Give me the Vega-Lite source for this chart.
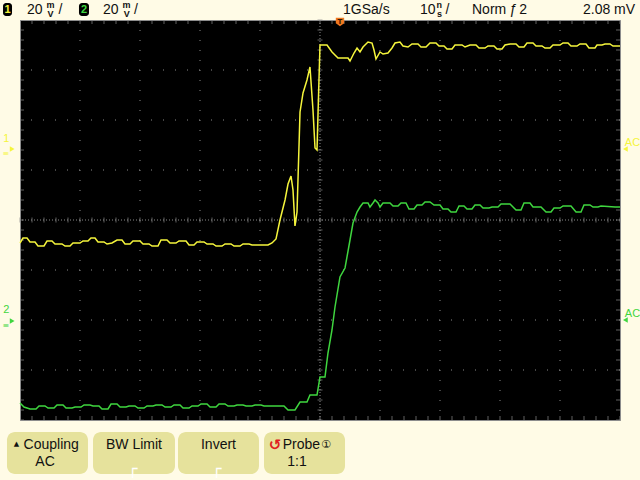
{
"$schema": "https://vega.github.io/schema/vega-lite/v6.json",
"width": 600, "height": 400,
"autosize": {"type": "none"},
"padding": {"left": 20, "top": 20, "right": 20, "bottom": 60},
"background": "#fffbe6",
"config": {"axis": {"disable": true}, "view": {"fill": "#000000", "stroke": "#8c8c8c", "strokeWidth": 1}},
"datasets": {
"ch1": [{"t":-50,"v":-0.46},{"t":-49.5,"v":-0.36},{"t":-48.83,"v":-0.36},{"t":-48.33,"v":-0.44},{"t":-47.5,"v":-0.44},{"t":-47,"v":-0.52},{"t":-46,"v":-0.52},{"t":-45.5,"v":-0.42},{"t":-44.67,"v":-0.42},{"t":-44.17,"v":-0.48},{"t":-43,"v":-0.48},{"t":-42.5,"v":-0.52},{"t":-41.67,"v":-0.52},{"t":-41.17,"v":-0.46},{"t":-40,"v":-0.46},{"t":-39.5,"v":-0.42},{"t":-38.67,"v":-0.42},{"t":-38.17,"v":-0.36},{"t":-37.5,"v":-0.36},{"t":-37,"v":-0.44},{"t":-36,"v":-0.44},{"t":-35.5,"v":-0.48},{"t":-34.67,"v":-0.46},{"t":-33.83,"v":-0.4},{"t":-33,"v":-0.4},{"t":-32.5,"v":-0.48},{"t":-31.67,"v":-0.48},{"t":-31.17,"v":-0.42},{"t":-30,"v":-0.42},{"t":-29.5,"v":-0.48},{"t":-28.5,"v":-0.48},{"t":-28,"v":-0.52},{"t":-27,"v":-0.52},{"t":-26.5,"v":-0.4},{"t":-25.5,"v":-0.4},{"t":-25,"v":-0.46},{"t":-24,"v":-0.46},{"t":-23.5,"v":-0.42},{"t":-22.33,"v":-0.42},{"t":-21.83,"v":-0.5},{"t":-21,"v":-0.5},{"t":-20.5,"v":-0.44},{"t":-19.33,"v":-0.44},{"t":-18.83,"v":-0.48},{"t":-17.83,"v":-0.48},{"t":-17.33,"v":-0.52},{"t":-16.33,"v":-0.52},{"t":-15.83,"v":-0.48},{"t":-14.83,"v":-0.48},{"t":-14.33,"v":-0.52},{"t":-13.33,"v":-0.52},{"t":-12.83,"v":-0.48},{"t":-11.83,"v":-0.48},{"t":-11.33,"v":-0.5},{"t":-9.67,"v":-0.5},{"t":-8.67,"v":-0.5},{"t":-8,"v":-0.46},{"t":-7.33,"v":-0.38},{"t":-6.67,"v":0},{"t":-5.83,"v":0.4},{"t":-5.33,"v":0.72},{"t":-4.83,"v":0.88},{"t":-4.5,"v":0.6},{"t":-4.17,"v":-0.12},{"t":-3.83,"v":0.16},{"t":-3.33,"v":2.16},{"t":-2.83,"v":2.54},{"t":-2.17,"v":2.8},{"t":-1.67,"v":3.06},{"t":-1.17,"v":2.2},{"t":-0.83,"v":1.44},{"t":-0.5,"v":1.4},{"t":-0.17,"v":2.8},{"t":0,"v":3.5},{"t":1.17,"v":3.5},{"t":2,"v":3.36},{"t":3,"v":3.24},{"t":4.67,"v":3.24},{"t":5,"v":3.18},{"t":5.67,"v":3.34},{"t":6.17,"v":3.44},{"t":6.67,"v":3.36},{"t":7.17,"v":3.46},{"t":8,"v":3.56},{"t":8.67,"v":3.54},{"t":9,"v":3.4},{"t":9.33,"v":3.22},{"t":10,"v":3.36},{"t":10.5,"v":3.32},{"t":11.33,"v":3.34},{"t":12,"v":3.44},{"t":12.5,"v":3.54},{"t":13.33,"v":3.56},{"t":13.83,"v":3.48},{"t":14.67,"v":3.46},{"t":15.33,"v":3.52},{"t":16.33,"v":3.52},{"t":16.83,"v":3.46},{"t":17.67,"v":3.46},{"t":18.33,"v":3.54},{"t":19.33,"v":3.54},{"t":19.83,"v":3.48},{"t":20.67,"v":3.48},{"t":21.17,"v":3.42},{"t":22,"v":3.42},{"t":22.5,"v":3.5},{"t":23.67,"v":3.5},{"t":24.17,"v":3.46},{"t":25,"v":3.5},{"t":26,"v":3.5},{"t":26.5,"v":3.44},{"t":27.5,"v":3.44},{"t":28,"v":3.48},{"t":29,"v":3.48},{"t":29.5,"v":3.42},{"t":30.33,"v":3.42},{"t":30.83,"v":3.5},{"t":31.67,"v":3.52},{"t":32.67,"v":3.52},{"t":33.17,"v":3.46},{"t":34,"v":3.46},{"t":34.5,"v":3.54},{"t":35.5,"v":3.54},{"t":36,"v":3.48},{"t":37,"v":3.48},{"t":37.5,"v":3.44},{"t":38.33,"v":3.44},{"t":38.83,"v":3.5},{"t":40,"v":3.5},{"t":40.5,"v":3.54},{"t":41.33,"v":3.54},{"t":41.83,"v":3.48},{"t":42.83,"v":3.48},{"t":43.33,"v":3.52},{"t":44.33,"v":3.52},{"t":44.83,"v":3.44},{"t":45.83,"v":3.44},{"t":46.17,"v":3.5},{"t":47,"v":3.5},{"t":47.5,"v":3.52},{"t":48.33,"v":3.52},{"t":48.83,"v":3.48},{"t":50,"v":3.48}],
"ch2": [{"t":-50,"v":-3.66},{"t":-49.33,"v":-3.74},{"t":-48.33,"v":-3.78},{"t":-47.33,"v":-3.78},{"t":-46.83,"v":-3.72},{"t":-45.83,"v":-3.72},{"t":-45.33,"v":-3.76},{"t":-44.33,"v":-3.76},{"t":-43.83,"v":-3.7},{"t":-42.83,"v":-3.7},{"t":-42.33,"v":-3.76},{"t":-41.33,"v":-3.76},{"t":-40.83,"v":-3.74},{"t":-39.83,"v":-3.74},{"t":-39.33,"v":-3.7},{"t":-38.33,"v":-3.7},{"t":-37.83,"v":-3.72},{"t":-36.83,"v":-3.72},{"t":-36.33,"v":-3.78},{"t":-35.33,"v":-3.78},{"t":-34.83,"v":-3.68},{"t":-33.83,"v":-3.68},{"t":-33.33,"v":-3.74},{"t":-32.33,"v":-3.74},{"t":-31.83,"v":-3.72},{"t":-30.83,"v":-3.72},{"t":-30.33,"v":-3.76},{"t":-29.33,"v":-3.76},{"t":-28.83,"v":-3.72},{"t":-27.83,"v":-3.72},{"t":-27.33,"v":-3.7},{"t":-26.33,"v":-3.7},{"t":-25.83,"v":-3.74},{"t":-24.83,"v":-3.74},{"t":-24.33,"v":-3.7},{"t":-23.33,"v":-3.7},{"t":-22.83,"v":-3.76},{"t":-21.83,"v":-3.76},{"t":-21.33,"v":-3.72},{"t":-20.33,"v":-3.72},{"t":-19.83,"v":-3.68},{"t":-18.83,"v":-3.68},{"t":-18.33,"v":-3.74},{"t":-17.33,"v":-3.74},{"t":-16.83,"v":-3.68},{"t":-15.83,"v":-3.68},{"t":-15.33,"v":-3.72},{"t":-14.33,"v":-3.72},{"t":-13.83,"v":-3.7},{"t":-12.83,"v":-3.7},{"t":-12.33,"v":-3.72},{"t":-11.33,"v":-3.72},{"t":-10.83,"v":-3.7},{"t":-9.83,"v":-3.7},{"t":-9.33,"v":-3.72},{"t":-6,"v":-3.72},{"t":-5.33,"v":-3.8},{"t":-4.17,"v":-3.8},{"t":-3.33,"v":-3.64},{"t":-2.17,"v":-3.64},{"t":-1.67,"v":-3.5},{"t":-0.5,"v":-3.5},{"t":0,"v":-3.14},{"t":0.83,"v":-3.14},{"t":1.33,"v":-2.66},{"t":2,"v":-2.2},{"t":2.5,"v":-1.74},{"t":3.33,"v":-1.14},{"t":4.17,"v":-0.96},{"t":5,"v":-0.4},{"t":5.5,"v":-0.06},{"t":6.17,"v":0.16},{"t":6.67,"v":0.26},{"t":7.17,"v":0.34},{"t":8,"v":0.34},{"t":8.33,"v":0.26},{"t":8.83,"v":0.34},{"t":9.17,"v":0.4},{"t":9.67,"v":0.34},{"t":10,"v":0.26},{"t":10.5,"v":0.34},{"t":11.67,"v":0.34},{"t":12.17,"v":0.28},{"t":13,"v":0.28},{"t":13.5,"v":0.34},{"t":14.33,"v":0.34},{"t":14.83,"v":0.22},{"t":15.67,"v":0.22},{"t":16.17,"v":0.3},{"t":17,"v":0.3},{"t":17.5,"v":0.36},{"t":18.33,"v":0.36},{"t":19,"v":0.3},{"t":20,"v":0.3},{"t":20.5,"v":0.22},{"t":21.33,"v":0.22},{"t":21.83,"v":0.16},{"t":22.67,"v":0.16},{"t":23.17,"v":0.28},{"t":24,"v":0.28},{"t":24.5,"v":0.22},{"t":25.33,"v":0.22},{"t":25.83,"v":0.3},{"t":26.67,"v":0.3},{"t":27.17,"v":0.24},{"t":28.17,"v":0.24},{"t":28.67,"v":0.26},{"t":29.67,"v":0.26},{"t":30.17,"v":0.32},{"t":31.67,"v":0.32},{"t":32.67,"v":0.2},{"t":33.5,"v":0.2},{"t":34,"v":0.34},{"t":35,"v":0.34},{"t":35.5,"v":0.26},{"t":36.83,"v":0.26},{"t":37.67,"v":0.16},{"t":38.5,"v":0.16},{"t":39,"v":0.24},{"t":40,"v":0.24},{"t":40.5,"v":0.28},{"t":41.83,"v":0.28},{"t":42.67,"v":0.16},{"t":43.5,"v":0.16},{"t":44,"v":0.3},{"t":45,"v":0.3},{"t":45.5,"v":0.26},{"t":46.33,"v":0.26},{"t":46.83,"v":0.28},{"t":49.17,"v":0.26},{"t":50,"v":0.26}],
"gx": [{"t":-40},{"t":-30},{"t":-20},{"t":-10},{"t":10},{"t":20},{"t":30},{"t":40}],
"gy": [{"v":-3},{"v":-2},{"v":-1},{"v":1},{"v":2},{"v":3}],
"xt": [{"t":-50},{"t":-48},{"t":-46},{"t":-44},{"t":-42},{"t":-40},{"t":-38},{"t":-36},{"t":-34},{"t":-32},{"t":-30},{"t":-28},{"t":-26},{"t":-24},{"t":-22},{"t":-20},{"t":-18},{"t":-16},{"t":-14},{"t":-12},{"t":-10},{"t":-8},{"t":-6},{"t":-4},{"t":-2},{"t":0},{"t":2},{"t":4},{"t":6},{"t":8},{"t":10},{"t":12},{"t":14},{"t":16},{"t":18},{"t":20},{"t":22},{"t":24},{"t":26},{"t":28},{"t":30},{"t":32},{"t":34},{"t":36},{"t":38},{"t":40},{"t":42},{"t":44},{"t":46},{"t":48},{"t":50}],
"yt": [{"v":-4},{"v":-3.8},{"v":-3.6},{"v":-3.4},{"v":-3.2},{"v":-3},{"v":-2.8},{"v":-2.6},{"v":-2.4},{"v":-2.2},{"v":-2},{"v":-1.8},{"v":-1.6},{"v":-1.4},{"v":-1.2},{"v":-1},{"v":-0.8},{"v":-0.6},{"v":-0.4},{"v":-0.2},{"v":0},{"v":0.2},{"v":0.4},{"v":0.6},{"v":0.8},{"v":1},{"v":1.2},{"v":1.4},{"v":1.6},{"v":1.8},{"v":2},{"v":2.2},{"v":2.4},{"v":2.6},{"v":2.8},{"v":3},{"v":3.2},{"v":3.4},{"v":3.6},{"v":3.8},{"v":4}],
"one": [{}],
"hdr": [{"t":-48.83,"v":4.2,"label":"20"},{"t":-43.6,"v":4.2,"label":"/"},{"t":-36.17,"v":4.2,"label":"20"},{"t":-31,"v":4.2,"label":"/"},{"t":3.83,"v":4.2,"label":"1GSa/s"},{"t":16.67,"v":4.2,"label":"10"},{"t":20.9,"v":4.2,"label":"/"},{"t":25.33,"v":4.2,"label":"Norm"},{"t":31.6,"v":4.2,"label":"ƒ"},{"t":33.2,"v":4.2,"label":"2"},{"t":43.83,"v":4.2,"label":"2.08 mV"}],
"units": [{"t":-45.6,"v":4.3,"label":"m"},{"t":-45.4,"v":4.13,"label":"V"},{"t":-32.9,"v":4.3,"label":"m"},{"t":-32.7,"v":4.13,"label":"V"},{"t":19.4,"v":4.3,"label":"n"},{"t":19.5,"v":4.13,"label":"s"}],
"badges": [{"t":-52.83,"t2":-51.33,"v":4.34,"v2":4.08},{"t":-40.17,"t2":-38.5,"v":4.34,"v2":4.08}],
"btn": [{"t":-52.17,"t2":-38.67,"v":-4.24,"v2":-5.08},{"t":-37.83,"t2":-24.17,"v":-4.24,"v2":-5.08},{"t":-23.67,"t2":-10.17,"v":-4.24,"v2":-5.08},{"t":-9.33,"t2":4.17,"v":-4.24,"v2":-5.08}],
"btxt": [{"t":-44.8,"v":-4.5,"label":"Coupling"},{"t":-45.83,"v":-4.84,"label":"AC"},{"t":-31,"v":-4.5,"label":"BW Limit"},{"t":-16.92,"v":-4.5,"label":"Invert"},{"t":-3.1,"v":-4.5,"label":"Probe"},{"t":-3.83,"v":-4.84,"label":"1:1"}],
"corners": [{"t":-31.2,"v":-4.98,"label":"┌"},{"t":-17.2,"v":-4.98,"label":"┌"}]
},
"layer": [
{"data":{"name":"gx"},"mark":{"type":"rule","color":"#8a8a8a","strokeWidth":1,"strokeDash":[1,9]},"encoding":{"x":{"field":"t","type":"quantitative","scale":{"domain":[-50,50],"nice":false,"zero":false}}}},
{"data":{"name":"gy"},"mark":{"type":"rule","color":"#8a8a8a","strokeWidth":1,"strokeDash":[1,11]},"encoding":{"y":{"field":"v","type":"quantitative","scale":{"domain":[-4,4],"nice":false,"zero":false}}}},
{"data":{"name":"one"},"mark":{"type":"rule","color":"#8a8a8a","strokeWidth":1,"strokeDash":[1,2]},"encoding":{"x":{"datum":0,"type":"quantitative","scale":{"domain":[-50,50],"nice":false,"zero":false}}}},
{"data":{"name":"one"},"mark":{"type":"rule","color":"#8a8a8a","strokeWidth":1,"strokeDash":[1,2]},"encoding":{"y":{"datum":0,"type":"quantitative","scale":{"domain":[-4,4],"nice":false,"zero":false}}}},
{"data":{"name":"xt"},"mark":{"type":"tick","orient":"vertical","size":5,"thickness":1,"color":"#8a8a8a"},"encoding":{"x":{"field":"t","type":"quantitative","scale":{"domain":[-50,50],"nice":false,"zero":false}},"y":{"datum":0,"type":"quantitative","scale":{"domain":[-4,4],"nice":false,"zero":false}}}},
{"data":{"name":"xt"},"mark":{"type":"tick","orient":"vertical","size":8,"thickness":1,"color":"#8a8a8a","clip":true},"encoding":{"x":{"field":"t","type":"quantitative","scale":{"domain":[-50,50],"nice":false,"zero":false}},"y":{"datum":4,"type":"quantitative","scale":{"domain":[-4,4],"nice":false,"zero":false}}}},
{"data":{"name":"xt"},"mark":{"type":"tick","orient":"vertical","size":8,"thickness":1,"color":"#8a8a8a","clip":true},"encoding":{"x":{"field":"t","type":"quantitative","scale":{"domain":[-50,50],"nice":false,"zero":false}},"y":{"datum":-4,"type":"quantitative","scale":{"domain":[-4,4],"nice":false,"zero":false}}}},
{"data":{"name":"yt"},"mark":{"type":"tick","orient":"horizontal","size":5,"thickness":1,"color":"#8a8a8a"},"encoding":{"y":{"field":"v","type":"quantitative","scale":{"domain":[-4,4],"nice":false,"zero":false}},"x":{"datum":0,"type":"quantitative","scale":{"domain":[-50,50],"nice":false,"zero":false}}}},
{"data":{"name":"yt"},"mark":{"type":"tick","orient":"horizontal","size":8,"thickness":1,"color":"#8a8a8a","clip":true},"encoding":{"y":{"field":"v","type":"quantitative","scale":{"domain":[-4,4],"nice":false,"zero":false}},"x":{"datum":-50,"type":"quantitative","scale":{"domain":[-50,50],"nice":false,"zero":false}}}},
{"data":{"name":"yt"},"mark":{"type":"tick","orient":"horizontal","size":8,"thickness":1,"color":"#8a8a8a","clip":true},"encoding":{"y":{"field":"v","type":"quantitative","scale":{"domain":[-4,4],"nice":false,"zero":false}},"x":{"datum":50,"type":"quantitative","scale":{"domain":[-50,50],"nice":false,"zero":false}}}},
{"data":{"name":"ch2"},"mark":{"type":"line","color":"#3fd63f","strokeWidth":1.5},"encoding":{"x":{"field":"t","type":"quantitative","scale":{"domain":[-50,50],"nice":false,"zero":false}},"y":{"field":"v","type":"quantitative","scale":{"domain":[-4,4],"nice":false,"zero":false}}}},
{"data":{"name":"ch1"},"mark":{"type":"line","color":"#f5f53c","strokeWidth":1.5},"encoding":{"x":{"field":"t","type":"quantitative","scale":{"domain":[-50,50],"nice":false,"zero":false}},"y":{"field":"v","type":"quantitative","scale":{"domain":[-4,4],"nice":false,"zero":false}}}},
{"data":{"values":[{"t":3.33,"v":3.96}]},"mark":{"type":"point","shape":"M-1,-1H1V0.3L0,1L-1,0.3Z","filled":true,"opacity":1,"size":70,"color":"#f07820"},"encoding":{"x":{"field":"t","type":"quantitative","scale":{"domain":[-50,50],"nice":false,"zero":false}},"y":{"field":"v","type":"quantitative","scale":{"domain":[-4,4],"nice":false,"zero":false}}}},
{"data":{"values":[{"t":3.33,"v":3.97,"label":"T"}]},"mark":{"type":"text","font":"DejaVu Sans","fontWeight":"bold","fontSize":7,"color":"#3a1a00","baseline":"middle","align":"center"},"encoding":{"x":{"field":"t","type":"quantitative","scale":{"domain":[-50,50],"nice":false,"zero":false}},"y":{"field":"v","type":"quantitative","scale":{"domain":[-4,4],"nice":false,"zero":false}},"text":{"field":"label"}}},
{"data":{"values":[{"t":-51.3,"v":1.42},{"t":50.9,"v":1.42}]},"mark":{"type":"point","filled":true,"opacity":1,"size":30,"color":"#f5f53c"},"encoding":{"x":{"field":"t","type":"quantitative","scale":{"domain":[-50,50],"nice":false,"zero":false}},"y":{"field":"v","type":"quantitative","scale":{"domain":[-4,4],"nice":false,"zero":false}},"shape":{"field":"t","type":"nominal","scale":{"range":["triangle-right","triangle-left"]},"legend":null}}},
{"data":{"values":[{"t":-51.3,"v":-2.02},{"t":50.9,"v":-2.0}]},"mark":{"type":"point","filled":true,"opacity":1,"size":30,"color":"#3fd63f"},"encoding":{"x":{"field":"t","type":"quantitative","scale":{"domain":[-50,50],"nice":false,"zero":false}},"y":{"field":"v","type":"quantitative","scale":{"domain":[-4,4],"nice":false,"zero":false}},"shape":{"field":"t","type":"nominal","scale":{"range":["triangle-right","triangle-left"]},"legend":null}}},
{"data":{"values":[{"t":-52.3,"v":1.62,"label":"1"},{"t":51.3,"v":1.54,"label":"AC"}]},"mark":{"type":"text","font":"Liberation Sans","fontSize":11,"color":"#f5f53c","baseline":"middle","align":"left","dx":-3},"encoding":{"x":{"field":"t","type":"quantitative","scale":{"domain":[-50,50],"nice":false,"zero":false}},"y":{"field":"v","type":"quantitative","scale":{"domain":[-4,4],"nice":false,"zero":false}},"text":{"field":"label"}}},
{"data":{"values":[{"t":-52.4,"v":1.33,"label":"≡"}]},"mark":{"type":"text","font":"DejaVu Sans","fontSize":8,"color":"#f5f53c","baseline":"middle","align":"left","dx":-3},"encoding":{"x":{"field":"t","type":"quantitative","scale":{"domain":[-50,50],"nice":false,"zero":false}},"y":{"field":"v","type":"quantitative","scale":{"domain":[-4,4],"nice":false,"zero":false}},"text":{"field":"label"}}},
{"data":{"values":[{"t":-52.3,"v":-1.8,"label":"2"},{"t":51.3,"v":-1.88,"label":"AC"}]},"mark":{"type":"text","font":"Liberation Sans","fontSize":11,"color":"#3fd63f","baseline":"middle","align":"left","dx":-3},"encoding":{"x":{"field":"t","type":"quantitative","scale":{"domain":[-50,50],"nice":false,"zero":false}},"y":{"field":"v","type":"quantitative","scale":{"domain":[-4,4],"nice":false,"zero":false}},"text":{"field":"label"}}},
{"data":{"values":[{"t":-52.4,"v":-2.11,"label":"≡"}]},"mark":{"type":"text","font":"DejaVu Sans","fontSize":8,"color":"#3fd63f","baseline":"middle","align":"left","dx":-3},"encoding":{"x":{"field":"t","type":"quantitative","scale":{"domain":[-50,50],"nice":false,"zero":false}},"y":{"field":"v","type":"quantitative","scale":{"domain":[-4,4],"nice":false,"zero":false}},"text":{"field":"label"}}},
{"data":{"name":"badges"},"mark":{"type":"rect","color":"#000000","cornerRadius":3},"encoding":{"x":{"field":"t","type":"quantitative","scale":{"domain":[-50,50],"nice":false,"zero":false}},"x2":{"field":"t2"},"y":{"field":"v","type":"quantitative","scale":{"domain":[-4,4],"nice":false,"zero":false}},"y2":{"field":"v2"}}},
{"data":{"values":[{"t":-52.08,"v":4.21,"label":"1"}]},"mark":{"type":"text","font":"Liberation Sans","fontWeight":"bold","fontSize":11,"color":"#f5f53c","baseline":"middle","align":"center"},"encoding":{"x":{"field":"t","type":"quantitative","scale":{"domain":[-50,50],"nice":false,"zero":false}},"y":{"field":"v","type":"quantitative","scale":{"domain":[-4,4],"nice":false,"zero":false}},"text":{"field":"label"}}},
{"data":{"values":[{"t":-39.33,"v":4.21,"label":"2"}]},"mark":{"type":"text","font":"Liberation Sans","fontWeight":"bold","fontSize":11,"color":"#3fd63f","baseline":"middle","align":"center"},"encoding":{"x":{"field":"t","type":"quantitative","scale":{"domain":[-50,50],"nice":false,"zero":false}},"y":{"field":"v","type":"quantitative","scale":{"domain":[-4,4],"nice":false,"zero":false}},"text":{"field":"label"}}},
{"data":{"name":"hdr"},"mark":{"type":"text","font":"Liberation Sans","fontSize":14,"color":"#111111","baseline":"middle","align":"left"},"encoding":{"x":{"field":"t","type":"quantitative","scale":{"domain":[-50,50],"nice":false,"zero":false}},"y":{"field":"v","type":"quantitative","scale":{"domain":[-4,4],"nice":false,"zero":false}},"text":{"field":"label"}}},
{"data":{"name":"units"},"mark":{"type":"text","font":"Liberation Sans","fontWeight":"bold","fontSize":9,"color":"#111111","baseline":"middle","align":"left"},"encoding":{"x":{"field":"t","type":"quantitative","scale":{"domain":[-50,50],"nice":false,"zero":false}},"y":{"field":"v","type":"quantitative","scale":{"domain":[-4,4],"nice":false,"zero":false}},"text":{"field":"label"}}},
{"data":{"name":"btn"},"mark":{"type":"rect","color":"#e6e29c","cornerRadius":8},"encoding":{"x":{"field":"t","type":"quantitative","scale":{"domain":[-50,50],"nice":false,"zero":false}},"x2":{"field":"t2"},"y":{"field":"v","type":"quantitative","scale":{"domain":[-4,4],"nice":false,"zero":false}},"y2":{"field":"v2"}}},
{"data":{"name":"btxt"},"mark":{"type":"text","font":"Liberation Sans","fontSize":14,"color":"#111111","baseline":"middle","align":"center"},"encoding":{"x":{"field":"t","type":"quantitative","scale":{"domain":[-50,50],"nice":false,"zero":false}},"y":{"field":"v","type":"quantitative","scale":{"domain":[-4,4],"nice":false,"zero":false}},"text":{"field":"label"}}},
{"data":{"values":[{"t":-50.6,"v":-4.47,"label":"▲"}]},"mark":{"type":"text","font":"DejaVu Sans","fontSize":7,"color":"#111111","baseline":"middle","align":"center"},"encoding":{"x":{"field":"t","type":"quantitative","scale":{"domain":[-50,50],"nice":false,"zero":false}},"y":{"field":"v","type":"quantitative","scale":{"domain":[-4,4],"nice":false,"zero":false}},"text":{"field":"label"}}},
{"data":{"values":[{"t":1.0,"v":-4.5,"label":"①"}]},"mark":{"type":"text","font":"DejaVu Sans","fontSize":11,"color":"#111111","baseline":"middle","align":"center"},"encoding":{"x":{"field":"t","type":"quantitative","scale":{"domain":[-50,50],"nice":false,"zero":false}},"y":{"field":"v","type":"quantitative","scale":{"domain":[-4,4],"nice":false,"zero":false}},"text":{"field":"label"}}},
{"data":{"values":[{"t":-7.5,"v":-4.5,"label":"↺"}]},"mark":{"type":"text","font":"DejaVu Sans","fontWeight":"bold","fontSize":15,"color":"#e02020","baseline":"middle","align":"center"},"encoding":{"x":{"field":"t","type":"quantitative","scale":{"domain":[-50,50],"nice":false,"zero":false}},"y":{"field":"v","type":"quantitative","scale":{"domain":[-4,4],"nice":false,"zero":false}},"text":{"field":"label"}}},
{"data":{"name":"corners"},"mark":{"type":"text","font":"DejaVu Sans","fontSize":16,"color":"#ffffff","baseline":"middle","align":"center"},"encoding":{"x":{"field":"t","type":"quantitative","scale":{"domain":[-50,50],"nice":false,"zero":false}},"y":{"field":"v","type":"quantitative","scale":{"domain":[-4,4],"nice":false,"zero":false}},"text":{"field":"label"}}}
]
}
